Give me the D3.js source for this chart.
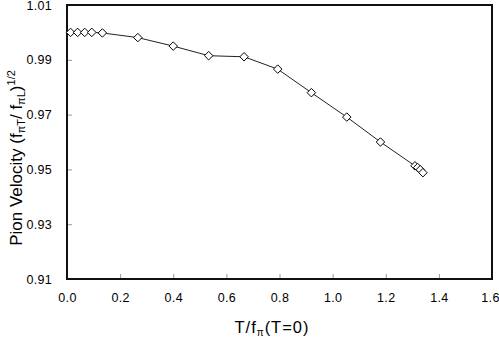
<!DOCTYPE html>
<html>
<head>
<meta charset="utf-8">
<script src="https://cdn.jsdelivr.net/npm/d3@7"></script>
<style>
  body { margin: 0; background: #fff; }
  text { font-family: "Liberation Sans", Arial, sans-serif; fill: #000; }
</style>
</head>
<body>
<div id="chart"></div>
<script>
// data
var tRatio = [0.0133, 0.04, 0.0667, 0.0933, 0.1333, 0.2667, 0.4, 0.5333, 0.6667, 0.7933,
              0.92, 1.0533, 1.18, 1.31, 1.32, 1.33, 1.34];
var velocity = [1.0000, 1.0000, 1.0000, 1.0000, 0.9998, 0.9981, 0.9950, 0.9915, 0.9911, 0.9866,
                0.9780, 0.9691, 0.9600, 0.9513, 0.9507, 0.9499, 0.9488];
var xTicks = [0, 0.2, 0.4, 0.6, 0.8, 1.0, 1.2, 1.4, 1.6];
var yTicks = [0.91, 0.93, 0.95, 0.97, 0.99, 1.01];

var width = 499, height = 338;
var margin = {left: 67, right: 7, top: 5, bottom: 59};

var svg = d3.select('#chart').append('svg')
	.attr('width', width)
	.attr('height', height);

var x = d3.scaleLinear().domain([0, 1.6]).range([margin.left, width - margin.right]);
var y = d3.scaleLinear().domain([0.91, 1.01]).range([height - margin.bottom, margin.top]);

// inward ticks
var xAxis = d3.axisBottom(x).tickValues(xTicks).tickSizeInner(-5).tickSizeOuter(0)
	.tickPadding(14).tickFormat(d3.format('.1f'));
var yAxis = d3.axisLeft(y).tickValues(yTicks).tickSizeInner(-5).tickSizeOuter(0)
	.tickPadding(15).tickFormat(d3.format('.2f'));

var gx = svg.append('g')
	.attr('transform', 'translate(0,' + (height - margin.bottom) + ')')
	.call(xAxis);
var gy = svg.append('g')
	.attr('transform', 'translate(' + margin.left + ',0)')
	.call(yAxis);

[gx, gy].forEach(function(g) {
	g.select('.domain').remove();
	g.selectAll('.tick line').attr('stroke', '#999');
	g.selectAll('.tick text').style('font-size', '12.5px').style('letter-spacing', '0.3px');
});
gx.selectAll('.tick text').attr('dy', '0.71em');
gx.selectAll('.tick text').filter(function(d) { return d === 1.6; }).attr('dx', -2);

// plot frame
svg.append('rect')
	.attr('x', margin.left)
	.attr('y', margin.top)
	.attr('width', width - margin.left - margin.right)
	.attr('height', height - margin.top - margin.bottom)
	.attr('fill', 'none')
	.attr('stroke', '#111')
	.attr('stroke-width', 2);

var pts = tRatio.map(function(d, i) { return [d, velocity[i]]; });

var line = d3.line()
	.x(function(d) { return x(d[0]); })
	.y(function(d) { return y(d[1]); });

svg.append('path')
	.datum(pts)
	.attr('d', line)
	.attr('fill', 'none')
	.attr('stroke', '#222')
	.attr('stroke-width', 1);

var diamond = d3.symbol().type(d3.symbolDiamond2).size(46);
svg.selectAll('path.pt')
	.data(pts)
	.enter().append('path')
	.attr('class', 'pt')
	.attr('d', diamond)
	.attr('transform', function(d) { return 'translate(' + x(d[0]) + ',' + y(d[1]) + ')'; })
	.attr('fill', '#fff')
	.attr('stroke', '#000')
	.attr('stroke-width', 1);

// x label
var xl = svg.append('text')
	.attr('x', 272)
	.attr('y', 333)
	.attr('text-anchor', 'middle')
	.style('font-size', '16.5px')
	.style('letter-spacing', '1px');
xl.append('tspan').text('T/f');
xl.append('tspan').attr('dy', 3).style('font-size', '10px').text('\u03c0');
xl.append('tspan').attr('dy', -3).text('(T=0)');

// y label
var yl = svg.append('text')
	.attr('transform', 'translate(22,' + 158 + ') rotate(-90)')
	.attr('text-anchor', 'middle')
	.style('font-size', '17px');
yl.append('tspan').text('Pion Velocity (f');
yl.append('tspan').attr('dy', 3).style('font-size', '11px').text('\u03c0T');
yl.append('tspan').attr('dy', -3).text('/ f');
yl.append('tspan').attr('dy', 3).style('font-size', '11px').text('\u03c0L');
yl.append('tspan').attr('dy', -3).text(')');
yl.append('tspan').attr('dy', -7).style('font-size', '11px').text('1/2');
</script>
</body>
</html>
